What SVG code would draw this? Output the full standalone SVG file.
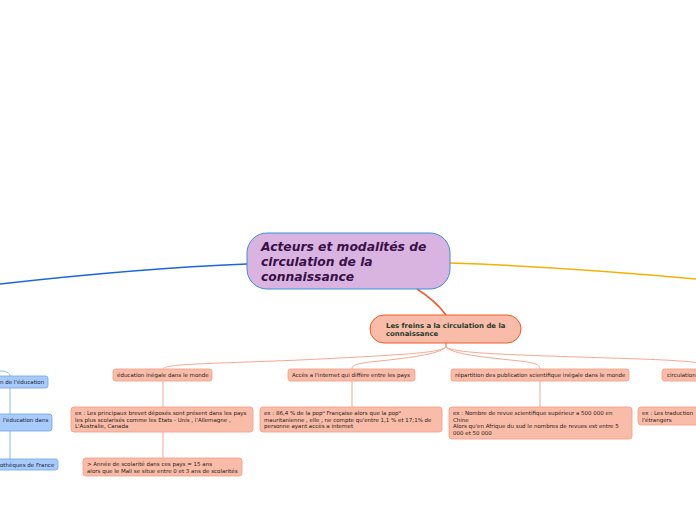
<svg xmlns="http://www.w3.org/2000/svg" width="696" height="520" viewBox="0 0 696 520">
<style>
.t{font-family:"DejaVu Sans","Liberation Sans",sans-serif;font-size:5.5px;fill:#2a1a14}
.tb{font-family:"DejaVu Sans","Liberation Sans",sans-serif;font-size:5.5px;fill:#14203a}
.sup{font-size:3.6px;baseline-shift:super}
.on{fill:#f9bca9;stroke:#f79a80;stroke-width:0.8}
.bn{fill:#a9cbf9;stroke:#6aa5f0;stroke-width:0.8}
.oc{fill:none;stroke:#f7a88f;stroke-width:1}
.bc{fill:none;stroke:#8dbaf3;stroke-width:1}
</style>
<rect width="696" height="520" fill="#ffffff"/>
<g id="connectors">
<path d="M0,284 C80,275 170,267 247,264" fill="none" stroke="#1a66d9" stroke-width="1.5"/>
<path d="M450,263 C540,266 620,272 696,279" fill="none" stroke="#f5b000" stroke-width="1.5"/>
<path d="M417,289 C428,296 438,304 446,315" fill="none" stroke="#f05a28" stroke-width="1.5"/>
<path class="oc" d="M446,343 L446,347 C440,353 400,355 300,360 C200,364 165,364 163,369"/>
<path class="oc" d="M446,343 L446,347 C440,353 420,357 370,362 C356,364 352,365 352,369"/>
<path class="oc" d="M446,343 L446,347 C452,353 470,356 520,361 C536,363 540,365 540,369"/>
<path class="oc" d="M446,343 L446,347 C455,354 520,355 640,359 C700,361 720,365 720,369"/>
<path class="oc" d="M163,381 L163,407"/>
<path class="oc" d="M163,432 L163,458"/>
<path class="oc" d="M352,381 L352,407"/>
<path class="oc" d="M540,381 L540,407"/>
<path class="bc" d="M0,371 C6,371 10,373 10,376"/>
<path class="bc" d="M10,388 L10,414"/>
<path class="bc" d="M10,431 L10,459"/>
</g>
<g id="central">
<rect x="247" y="233" width="203" height="56" rx="20" fill="#d9b4e0" stroke="#3d8fd8" stroke-width="1"/>
<text font-family="DejaVu Sans,sans-serif" font-weight="bold" font-style="italic" font-size="12.3" fill="#3a0f48">
<tspan x="261" y="251">Acteurs et modalités de</tspan>
<tspan x="261" y="266">circulation de la</tspan>
<tspan x="261" y="281">connaissance</tspan>
</text>
</g>
<g id="freins">
<rect x="370" y="315" width="151" height="28" rx="14" fill="#f9bca9" stroke="#f05a28" stroke-width="1"/>
<text font-family="DejaVu Sans,sans-serif" font-weight="bold" font-size="6.9" fill="#1e3a2a">
<tspan x="386" y="328">Les freins a la circulation de la</tspan>
<tspan x="386" y="336">connaissance</tspan>
</text>
</g>
<g id="education-inegale">
<rect class="on" x="113" y="369" width="99" height="12" rx="2.5"/>
<text class="t" x="117" y="377">éducation inégale dans le monde</text>
</g>
<g id="internet">
<rect class="on" x="288" y="369" width="127" height="12" rx="2.5"/>
<text class="t" x="292" y="377">Accès a l'internet qui diffère entre les pays</text>
</g>
<g id="publication">
<rect class="on" x="451" y="369" width="178" height="12" rx="2.5"/>
<text class="t" x="455" y="377">répartition des publication scientifique inégale dans le monde</text>
</g>
<g id="circulation">
<rect class="on" x="662" y="369" width="50" height="12" rx="2.5"/>
<text class="t" x="667" y="377">circulation</text>
</g>
<g id="ex-brevet">
<rect class="on" x="71" y="407" width="182" height="25" rx="3"/>
<text class="t">
<tspan x="75" y="415">ex : Les principaux brevet déposés sont présent dans les pays</tspan>
<tspan x="75" y="421.7">les plus scolarisés comme les Etats - Unis  , l'Allemagne ,</tspan>
<tspan x="75" y="428.4">L'Australie, Canada</tspan>
</text>
</g>
<g id="annees">
<rect class="on" x="83" y="458" width="159" height="18" rx="3"/>
<text class="t">
<tspan x="87" y="466">&gt; Année de scolarité dans ces pays = 15 ans</tspan>
<tspan x="87" y="472.7">alors que le Mali se situe entre 0 et 3 ans de scolarités</tspan>
</text>
</g>
<g id="ex-internet">
<rect class="on" x="260" y="407" width="182" height="25" rx="3"/>
<text class="t">
<tspan x="264" y="415">ex : 86,4 % de la pop<tspan class="sup">u</tspan> Française alors que la pop<tspan class="sup">u</tspan></tspan>
<tspan x="264" y="421.7">mauritanienne , elle , ne compte qu'entre  1,1 % et 17;1% de</tspan>
<tspan x="264" y="428.4">personne ayant accès a internet</tspan>
</text>
</g>
<g id="ex-revue">
<rect class="on" x="449" y="407" width="183" height="32" rx="3"/>
<text class="t">
<tspan x="453" y="415">ex : Nombre de revue scientifique supérieur a 500 000 en</tspan>
<tspan x="453" y="421.5">Chine</tspan>
<tspan x="453" y="428">Alors qu'en Afrique du sud le nombres de revues est entre 5</tspan>
<tspan x="453" y="434.5">000 et 50 000</tspan>
</text>
</g>
<g id="ex-traduction">
<rect class="on" x="638" y="407" width="70" height="18" rx="3"/>
<text class="t">
<tspan x="642" y="415">ex : Les traduction</tspan>
<tspan x="642" y="421.5">l'étrangers</tspan>
</text>
</g>
<g id="blue-a">
<rect class="bn" x="-50" y="376" width="98" height="12" rx="2.5"/>
<text class="tb" x="0" y="384">n de l'éducation</text>
</g>
<g id="blue-b">
<rect class="bn" x="-50" y="414" width="102" height="17" rx="3"/>
<text class="tb" x="3" y="422">l'éducation dans</text>
</g>
<g id="blue-c">
<rect class="bn" x="-50" y="459" width="108" height="11" rx="2.5"/>
<text class="tb" x="0" y="466.5">othèques de France</text>
</g>
</svg>
